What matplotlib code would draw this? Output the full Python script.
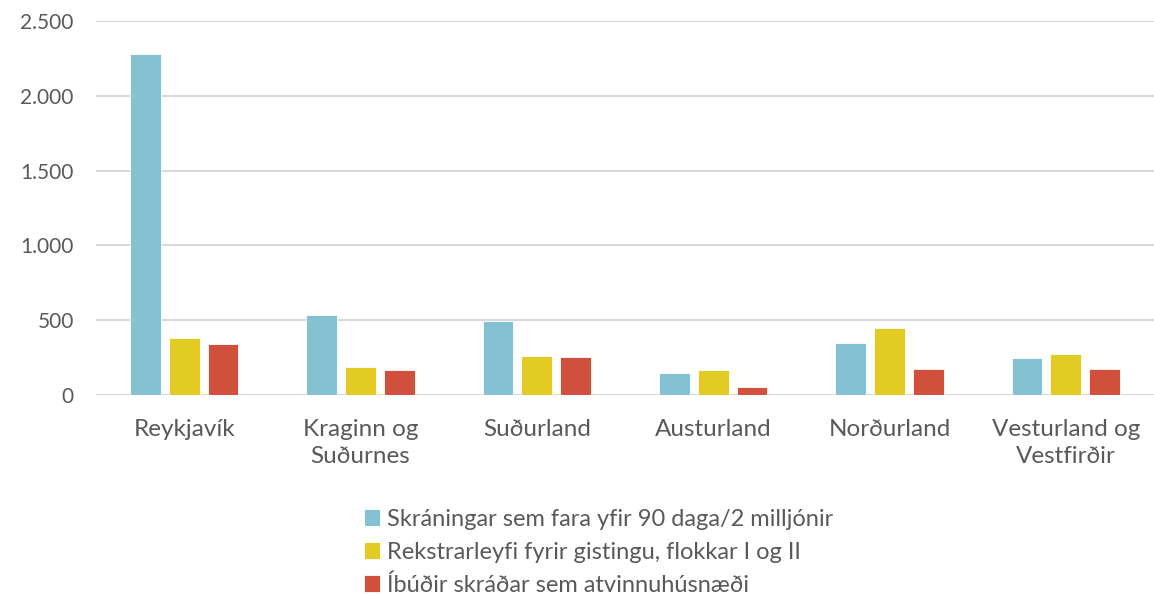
import numpy as np
import matplotlib.pyplot as plt
from matplotlib.ticker import FuncFormatter

# data
regions = ["Reykjavík", "Kraginn og\nSuðurnes", "Suðurland", "Austurland",
           "Norðurland", "Vesturland og\nVestfirðir"]
skraningar = [2279, 532, 495, 144, 349, 246]
rekstrarleyfi = [383, 189, 260, 166, 449, 277]
ibudir = [342, 169, 257, 54, 173, 173]

series_names = ["Skráningar sem fara yfir 90 daga/2 milljónir",
                "Rekstrarleyfi fyrir gistingu, flokkar I og II",
                "Íbúðir skráðar sem atvinnuhúsnæði"]
colors = ["#84C2D3", "#E2CC24", "#D0503C"]
yticks = [0, 500, 1000, 1500, 2000, 2500]

text_color = "#595959"
plt.rcParams["font.family"] = ["Lato", "DejaVu Sans"]

fig = plt.figure(figsize=(11.54, 5.96), dpi=100)
ax = fig.add_axes([96 / 1154, 1 - 395 / 596, 1 - 96 / 1154, (395 - 21) / 596])

x = np.arange(len(regions))
width = 0.175
step = 0.22
handles = []
for i, (vals, col) in enumerate(zip([skraningar, rekstrarleyfi, ibudir], colors)):
    h = ax.bar(x + (i - 1) * step, vals, width, color=col, edgecolor="white",
               linewidth=0.6, zorder=3)
    handles.append(h)

ax.set_xlim(-0.5, len(regions) - 0.5)
ax.set_ylim(0, 2500)
ax.set_yticks(yticks)
ax.yaxis.set_major_formatter(FuncFormatter(lambda v, p: f"{int(v):,}".replace(",", ".")))
ax.grid(axis="y", color="#d9d9d9", linewidth=1.5, zorder=0)
ax.set_axisbelow(True)
for s in ax.spines.values():
    s.set_visible(False)
ax.tick_params(axis="y", length=0, pad=16, labelsize=15, labelcolor=text_color)
ax.tick_params(axis="x", length=0, pad=17, labelsize=17.5, labelcolor=text_color)
ax.set_xticks(x)
ax.set_xticklabels(regions, linespacing=1.4)

leg = fig.legend(handles, series_names, loc="upper left",
                 bbox_to_anchor=(352 / 1154, 1 - 497 / 596), frameon=False,
                 fontsize=17, handlelength=0.7, handleheight=0.7,
                 handletextpad=0.3, labelspacing=0.5, borderpad=0)
for t in leg.get_texts():
    t.set_color(text_color)

fig.savefig("out.png", dpi=100)
